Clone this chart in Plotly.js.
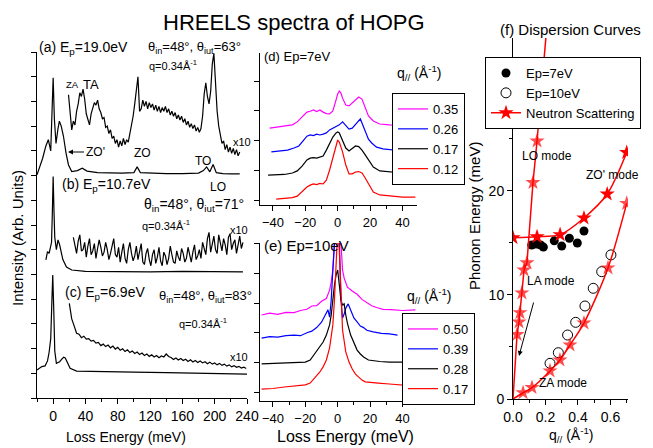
<!DOCTYPE html>
<html><head><meta charset="utf-8">
<script src="https://cdn.plot.ly/plotly-3.0.1.min.js"></script>
<style>html,body{margin:0;padding:0;background:#fff}#plot{width:653px;height:448px}</style>
</head><body><div id="plot"></div>
<script>
// ---------- Panel (a)-(c): HREELS spectra at q=0.34 (intensity in arbitrary offset units) ----------
const aMainE = [-20,-17,-13,-9,-6,-3,-1.5,0,1.5,3.5,6,7.7,10,12.7,16,19,23,30,36,42,55,70,85,100,104,108,120,140,160,180,186,190,194,198,202,210,220,231];
const aMainI = [9.03,9.3,9.7,10.2,10.45,10.0,11.5,12.96,11.3,10.3,10.9,11.2,11.0,10.6,9.9,9.43,9.16,9.2,9.3,9.18,9.12,9.1,9.1,9.12,9.35,9.12,9.1,9.08,9.08,9.1,9.2,9.35,9.15,9.45,9.12,9.08,9.07,9.07];
const aX10E = [19,21,23,25,27,29,31,33,35,37,39,41,43,45,47,49,51,53,55,57,59,61,63,65,67,69,71,73,75,77,79,81,83,85,87,89,91,93,95,97,99,101,103,105,107,109,111,113,115,117,119,121,123,125,127,129,131,133,135,137,139,141,143,145,147,149,151,153,155,157,159,161,163,165,167,169,171,173,175,177,179,181,183,185,187,189,191,193,195,197,199,201,203,205,207,209,211,213,215,217,219,221,223,225,227,229,231];
const aX10I = [12.27,11.6,10.85,11.2,11.05,11.6,11.9,12.35,12.2,12.5,12.1,11.5,11.25,11.05,11.5,11.7,11.95,11.85,12.05,11.7,11.55,11.3,11.35,10.95,11.0,10.7,10.85,10.5,10.6,10.3,10.45,10.15,10.4,10.2,10.5,10.25,10.45,10.35,10.7,10.95,11.4,11.9,12.5,13.0,11.6,11.7,12.05,11.8,12.0,11.7,11.95,11.75,11.9,11.65,11.85,11.6,11.8,11.55,11.75,11.6,11.8,11.55,11.7,11.45,11.6,11.4,11.55,11.3,11.45,11.25,11.4,11.15,11.3,11.05,11.2,10.95,11.1,10.9,11.05,10.8,10.95,10.75,10.9,11.4,12.3,12.75,12.2,11.9,12.4,13.5,13.95,12.8,11.6,11.0,10.55,10.3,10.4,10.05,10.25,9.95,10.15,9.9,10.1,9.85,10.05,9.8,9.95];
const bMainE = [-9,-7,-5,-4,-2,-1,0,1,2,4,6,8,10,12,16.5,23,40,80,120,160,200,235];
const bMainI = [5.59,5.92,5.85,6.0,6.3,7.5,8.96,7.6,6.5,6.0,6.4,6.2,5.9,5.6,5.3,5.18,5.12,5.1,5.1,5.12,5.12,5.1];
const bX10E = [25,27,29,31,33,35,37,39,41,43,45,47,49,51,53,55,57,59,61,63,65,67,69,71,73,75,77,79,81,83,85,87,89,91,93,95,97,99,101,103,105,107,109,111,113,115,117,119,121,123,125,127,129,131,133,135,137,139,141,143,145,147,149,151,153,155,157,159,161,163,165,167,169,171,173,175,177,179,181,183,185,187,189,191,193,195,197,199,201,203,205,207,209,211,213,215,217,219,221,223,225,227,229,231,233,235];
const bX10I = [6.5,6.1,5.85,6.35,6.6,5.95,6.0,6.3,5.7,6.15,6.45,5.8,5.95,6.25,5.65,6.05,6.4,6.1,5.75,5.9,6.3,6.0,5.6,5.85,6.2,6.45,5.8,5.7,6.1,5.5,5.9,6.25,5.65,5.45,6.0,6.3,5.85,5.55,5.75,6.15,5.6,5.95,6.25,5.5,5.4,5.85,6.05,5.6,5.35,5.8,6.0,5.45,5.7,6.1,5.55,5.35,5.9,5.75,5.4,5.65,6.15,5.8,5.5,5.45,5.95,5.7,5.55,6.05,5.85,5.5,5.65,6.1,5.75,5.5,5.9,6.2,5.6,5.75,6.0,5.65,6.3,6.05,5.8,6.45,6.7,5.9,6.2,6.55,6.0,5.85,6.6,6.3,5.95,6.45,6.2,5.8,6.5,6.65,6.0,6.25,6.4,5.85,6.15,6.55,6.05,6.3];
const cMainE = [-20,-17,-14,-10,-7,-5,-3,-1.5,-0.5,0.8,2,4,8,11,13,15,17,21,29,40,58,100,140,190,240];
const cMainI = [1.13,1.2,1.27,1.3,1.5,1.85,2.4,4.0,4.98,3.5,1.9,1.4,1.47,1.58,1.65,1.62,1.5,1.2,1.09,1.08,1.07,1.05,1.03,1.0,0.97];
const cX10E = [20,23,26,29,32,35,38,41,44,47,50,53,56,59,62,65,68,71,74,77,80,83,86,89,92,95,98,101,104,107,110,113,116,119,122,125,128,131,134,137,140,143,146,149,152,155,158,161,164,167,170,173,176,179,182,185,188,191,194,197,200,203,206,209,212,215,218,221,224,227,230,233,236,239];
const cX10I = [3.83,3.2,2.92,2.62,2.58,2.44,2.5,2.38,2.4,2.3,2.33,2.22,2.25,2.12,2.18,2.08,2.14,2.03,2.1,1.98,2.05,1.93,1.99,1.88,1.95,1.84,1.9,1.8,1.86,1.76,1.82,1.72,1.78,1.68,1.75,1.66,1.72,1.63,1.7,1.66,1.78,1.68,1.64,1.56,1.62,1.54,1.6,1.52,1.57,1.48,1.55,1.46,1.52,1.44,1.5,1.42,1.47,1.39,1.45,1.37,1.42,1.34,1.4,1.32,1.37,1.29,1.34,1.26,1.31,1.24,1.28,1.21,1.25,1.19];

// ---------- Panel (d): Ep=7eV, q// series ----------
const dLabels = ['0.35','0.26','0.17','0.12'];
const dE035 = [-42,-37,-32,-28,-25,-22,-19,-17,-15,-13,-11,-9,-7,-5,-3,-1,0,1,2,3,5,7,9,11,13,15,17,19,22,26,32,40,48];
const dI035 = [2.42,2.46,2.49,2.53,2.63,2.79,2.96,2.99,3.03,2.98,3.03,2.96,2.91,2.9,3.0,3.37,3.57,3.67,3.6,3.43,3.2,3.17,3.27,3.37,3.47,3.4,3.1,2.83,2.66,2.56,2.53,2.51,2.49];
const dE026 = [-41,-36,-31,-27,-24,-21,-19,-17,-15,-13,-11,-9,-7,-5,-3,-1,1,3,5,7,9,11,13,14,15,17,19,21,24,28,34,40,48];
const dI026 = [1.62,1.65,1.68,1.75,1.82,2.02,2.15,2.19,2.17,2.22,2.19,2.22,2.26,2.36,2.42,2.46,2.53,2.63,2.49,2.39,2.42,2.56,2.66,2.73,2.59,2.32,2.05,1.92,1.78,1.72,1.68,1.65,1.65];
const dE017 = [-43,-38,-33,-28,-25,-22,-19,-17,-15,-13,-11,-9,-7,-5,-3,-1,0,1,3,5,7,9,11,13,15,17,19,22,26,32,40,48];
const dI017 = [0.84,0.84,0.86,0.91,0.98,1.14,1.35,1.41,1.43,1.41,1.45,1.48,1.68,1.92,2.12,2.26,2.29,2.26,2.02,1.75,1.65,1.75,1.82,1.8,1.68,1.52,1.35,1.11,0.98,0.94,0.91,0.91];
const dE012 = [-38,-33,-28,-25,-22,-19,-17,-15,-13,-11,-9,-7,-5,-3,-1,0,1,3,5,7,9,11,13,15,17,19,22,26,32,40,48];
const dI012 = [0.03,0.05,0.08,0.13,0.27,0.44,0.5,0.54,0.52,0.56,0.54,0.67,1.01,1.45,1.89,2.02,1.95,1.62,1.18,0.88,0.88,0.94,0.96,0.91,0.74,0.54,0.27,0.17,0.13,0.1,0.1];

// ---------- Panel (e): Ep=10eV, q// series ----------
const eLabels = ['0.50','0.39','0.28','0.17'];
const eE050 = [-47,-42,-37,-32,-27,-23,-19,-16,-13,-10,-7,-5,-4,-3,-2,-1,0,1,2,3,4,6,9,12,15,18,21,24,28,33,40,48];
const eI050 = [2.6,2.66,2.62,2.69,2.68,2.75,2.79,2.9,2.91,3.06,3.15,3.43,3.7,4.1,5.1,6.1,6.43,5.93,4.93,4.1,3.83,3.53,3.4,3.29,3.12,3.02,2.91,2.85,2.79,2.78,2.75,2.77];
const eE039 = [-47,-42,-37,-32,-27,-23,-19,-16,-13,-10,-8,-7,-6,-5,-4,-3,-2,-1,0,1,2,3,4,5,6,6.5,8,10,12,14,16,18,22,27,32,37];
const eI039 = [1.83,1.88,1.86,1.91,1.93,1.91,2.01,2.06,2.18,2.36,2.57,2.7,2.77,2.53,3.1,4.1,5.1,5.77,5.77,5.1,3.1,2.5,2.63,2.83,2.93,2.97,2.77,2.5,2.37,2.23,2.18,2.09,2.04,1.99,1.97,1.93];
const eE028 = [-47,-40,-33,-26,-20,-17,-14,-11,-9,-7,-6,-5,-4,-3,-2,-1,0,1,2,3,4,5,6,8,10,12,14,16,19,22,26,32,40,48];
const eI028 = [0.97,0.98,1.0,1.02,1.03,1.1,1.33,1.53,1.7,1.93,2.1,2.27,2.6,3.2,3.6,3.93,4.1,3.6,3.1,2.93,2.97,2.6,2.33,1.93,1.67,1.43,1.3,1.2,1.1,1.07,1.05,1.03,1.03,1.03];
const eE017 = [-47,-40,-33,-26,-20,-17,-14,-11,-9,-7,-5,-3,-2,-1,0,1,2,3,5,7,9,11,13,15,17,20,25,32,40,48];
const eI017 = [0.13,0.15,0.2,0.23,0.27,0.33,0.5,0.7,0.87,1.1,1.5,2.27,3.1,4.77,5.43,4.77,3.1,2.1,1.37,1.03,0.8,0.63,0.53,0.43,0.37,0.35,0.33,0.3,0.27,0.23];

// ---------- Panel (f): dispersion curves ----------
const ep7Q = [0.115,0.142,0.170,0.187,0.254,0.300,0.347,0.396,0.437];
const ep7E = [14.8,14.9,14.8,14.6,15.2,14.7,15.45,15.0,16.15];
const ep10Q = [0.228,0.279,0.336,0.386,0.443,0.494,0.546,0.603];
const ep10E = [3.43,4.45,6.15,7.37,8.94,10.64,12.24,13.85];
const laloQ = [0,0.025,0.037,0.043,0.055,0.068,0.086,0.123,0.148,0.205];
const laloE = [0,6.2,7.4,8.3,10.2,12.4,13.1,20.8,24.8,35.2];
const zoQ = [0,0.148,0.29,0.437,0.58,0.70];
const zoE = [15.5,15.6,15.8,17.4,19.7,23.7];
const zaQ = [0,0.062,0.117,0.228,0.289,0.351,0.437,0.585,0.70];
const zaE = [0,0.6,1.1,2.7,3.75,5.2,7.3,12.6,18.8];

// ---------- helpers ----------
const W = 653, H = 448;
const FONT = 'Liberation Sans, Arial, sans-serif';
const px = v => v / W, py = v => 1 - v / H;
function ann(text, x, y, size, xanchor, extra) {
  return Object.assign({xref:'paper', yref:'paper', x:px(x), y:py(y), text:text, showarrow:false,
    xanchor:xanchor || 'left', yanchor:'middle', font:{size:size, color:'black', family:FONT}}, extra || {});
}
function axis(o) {
  return Object.assign({showline:true, linecolor:'black', linewidth:1, ticks:'outside', ticklen:5, tickwidth:1,
    tickcolor:'black', showgrid:false, zeroline:false, mirror:false, fixedrange:true,
    tickfont:{size:14, color:'black', family:FONT}}, o);
}
const spec = (x, y, xa, ya, extra) => Object.assign({x:x, y:y, xaxis:xa, yaxis:ya, type:'scatter', mode:'lines',
  line:{color:'black', width:1.2}, showlegend:false, hoverinfo:'skip'}, extra || {});

const traces = [
  spec(aMainE, aMainI, 'x', 'y'), spec(aX10E, aX10I, 'x', 'y'),
  spec(bMainE, bMainI, 'x', 'y'), spec(bX10E, bX10I, 'x', 'y'),
  spec(cMainE, cMainI, 'x', 'y'), spec(cX10E, cX10I, 'x', 'y'),
];
const dCols = ['#ff00ff','#0000ff','#000000','#ff0000'];
[[dE035,dI035],[dE026,dI026],[dE017,dI017],[dE012,dI012]].forEach((s,i) => traces.push(
  spec(s[0], s[1], 'x2', 'y2', {name:dLabels[i], showlegend:true, legend:'legend2', line:{color:dCols[i], width:1.2}})));
[[eE050,eI050],[eE039,eI039],[eE028,eI028],[eE017,eI017]].forEach((s,i) => traces.push(
  spec(s[0], s[1], 'x3', 'y3', {name:eLabels[i], showlegend:true, legend:'legend3', line:{color:dCols[i], width:1.2}})));

const STAR = 11.5;
const star = {symbol:'star', size:STAR, color:'#ff0000', line:{width:0}};
traces.push(
  {x:ep7Q, y:ep7E, xaxis:'x4', yaxis:'y4', type:'scatter', mode:'markers', name:'Ep=7eV', legend:'legend',
   marker:{symbol:'circle', size:9, color:'black'}, hoverinfo:'skip'},
  {x:ep10Q, y:ep10E, xaxis:'x4', yaxis:'y4', type:'scatter', mode:'markers', name:'Ep=10eV', legend:'legend',
   marker:{symbol:'circle-open', size:10, color:'black', line:{width:1}}, hoverinfo:'skip'},
  {x:laloQ, y:laloE, xaxis:'x4', yaxis:'y4', type:'scatter', mode:'lines+markers', showlegend:false,
   line:{color:'#ff0000', width:1.5}, marker:Object.assign({}, star, {size:laloQ.map((q,i)=> (i===0||i===laloQ.length-1)?0:STAR)}), hoverinfo:'skip'},
  {x:zoQ, y:zoE, xaxis:'x4', yaxis:'y4', type:'scatter', mode:'lines+markers', name:'Neutron Scattering', legend:'legend',
   line:{color:'#ff0000', width:1.5, shape:'spline', smoothing:0.8}, marker:star, hoverinfo:'skip'},
  {x:zaQ, y:zaE, xaxis:'x4', yaxis:'y4', type:'scatter', mode:'lines+markers', showlegend:false,
   line:{color:'#ff0000', width:1.5, shape:'spline', smoothing:0.8},
   marker:Object.assign({}, star, {size:zaQ.map((q,i)=> i===0?0:STAR)}), hoverinfo:'skip'}
);

const legBase = {bgcolor:'white', bordercolor:'black', borderwidth:1, xanchor:'left', yanchor:'top',
  font:{size:13, color:'black', family:FONT}, tracegroupgap:0, itemclick:false, itemdoubleclick:false};

const layout = {
  width:W, height:H, margin:{l:0, r:0, t:0, b:0}, paper_bgcolor:'white', plot_bgcolor:'rgba(0,0,0,0)',
  font:{family:FONT, color:'black'},
  xaxis: axis({domain:[px(37), px(247)], range:[-20,240], anchor:'y', tick0:0, dtick:40,
    minor:{dtick:20, ticklen:3, ticks:'outside', tickcolor:'black'}}),
  yaxis: axis({domain:[py(398), py(52)], range:[0,14], anchor:'x', tick0:0, dtick:1, showticklabels:false}),
  xaxis2: axis({domain:[px(260), px(417)], range:[-48,49], anchor:'y2', tick0:0, dtick:20,
    minor:{dtick:10, ticklen:3, ticks:'outside', tickcolor:'black'}, tickfont:{size:13, color:'black', family:FONT}}),
  yaxis2: axis({domain:[py(205), py(53)], range:[-0.168,4.95], anchor:'x2', tick0:0, dtick:1, showticklabels:false}),
  xaxis3: axis({domain:[px(260), px(417)], range:[-48,49], anchor:'y3', tick0:0, dtick:20,
    minor:{dtick:10, ticklen:3, ticks:'outside', tickcolor:'black'}, tickfont:{size:13, color:'black', family:FONT}}),
  yaxis3: axis({domain:[py(401), py(243)], range:[-0.267,5.0], anchor:'x3', tick0:0, dtick:1, showticklabels:false}),
  xaxis4: axis({domain:[px(513), px(628)], range:[0,0.708], anchor:'y4', tick0:0, dtick:0.2, tickformat:'.1f',
    minor:{dtick:0.1, ticklen:3, ticks:'outside', tickcolor:'black'}}),
  yaxis4: axis({domain:[py(399), py(38)], range:[0,34.7], anchor:'x4', tick0:0, dtick:10,
    minor:{dtick:5, ticklen:3, ticks:'outside', tickcolor:'black'}}),
  legend: Object.assign({}, legBase, {x:px(485), y:py(57)}),
  legend2: Object.assign({}, legBase, {x:px(392), y:py(93)}),
  legend3: Object.assign({}, legBase, {x:px(402), y:py(313)}),
  annotations: [
    ann('HREELS spectra of HOPG', 294, 23, 22, 'center'),
    // panel (a)
    ann('(a) E<sub>p</sub>=19.0eV', 37, 48, 14),
    ann('θ<sub>in</sub>=48°, θ<sub>iut</sub>=63°', 146, 48, 13),
    ann('q=0.34Å<sup>-1</sup>', 147, 65, 11),
    ann('ZA', 64, 85, 9.5), ann('TA', 81, 84, 13),
    {xref:'paper', yref:'paper', x:px(68), y:py(152), ax:27, ay:0, text:"ZO'", showarrow:true, arrowhead:2,
     arrowsize:1, arrowwidth:1, arrowcolor:'black', font:{size:12, color:'black', family:FONT}},
    ann('ZO', 132, 153, 12), ann('TO', 193, 161, 12), ann('x10', 231, 142, 11), ann('LO', 208, 187, 12),
    // panel (b)
    ann('(b) E<sub>p</sub>=10.7eV', 60, 185, 14),
    ann('θ<sub>in</sub>=48°, θ<sub>iut</sub>=71°', 142, 205, 14),
    ann('q=0.34Å<sup>-1</sup>', 140, 225, 11),
    ann('x10', 228, 230, 11),
    // panel (c)
    ann('(c) E<sub>p</sub>=6.9eV', 63, 293, 14),
    ann('θ<sub>in</sub>=48°, θ<sub>iut</sub>=83°', 157, 296, 13),
    ann('q=0.34Å<sup>-1</sup>', 177, 323, 11),
    ann('x10', 228, 357, 11),
    ann('Intensity (Arb. Units)', 17, 238, 15, 'center', {textangle:-90}),
    ann('Loss Energy (meV)', 126, 437, 14, 'center'),
    // panel (d), (e)
    ann('(d) Ep=7eV', 262, 57, 13),
    ann('q<sub>//</sub> (Å<sup>-1</sup>)', 395, 73, 14),
    ann('(e) Ep=10eV', 262, 245, 15),
    ann('q<sub>//</sub> (Å<sup>-1</sup>)', 405, 296, 14),
    ann('Loss Energy (meV)', 345, 436, 16, 'center'),
    // panel (f)
    ann('(f) Dispersion Curves', 498, 29, 15),
    ann('LO mode', 520, 156, 12), ann("ZO' mode", 584, 175, 12),
    ann('LA mode', 525, 281, 12), ann('ZA mode', 537, 383, 12),
    {xref:'paper', yref:'paper', x:px(519), y:py(356), ax:15, ay:-55, text:'', showarrow:true, arrowhead:2,
     arrowsize:1, arrowwidth:1, arrowcolor:'black'},
    ann('Phonon Energy (meV)', 474, 216, 15, 'center', {textangle:-90}),
    ann('q<sub>//</sub> (Å<sup>-1</sup>)', 571, 435, 14, 'center')
  ]
};
Plotly.newPlot('plot', traces, layout, {staticPlot:true, displayModeBar:false});
</script></body></html>
